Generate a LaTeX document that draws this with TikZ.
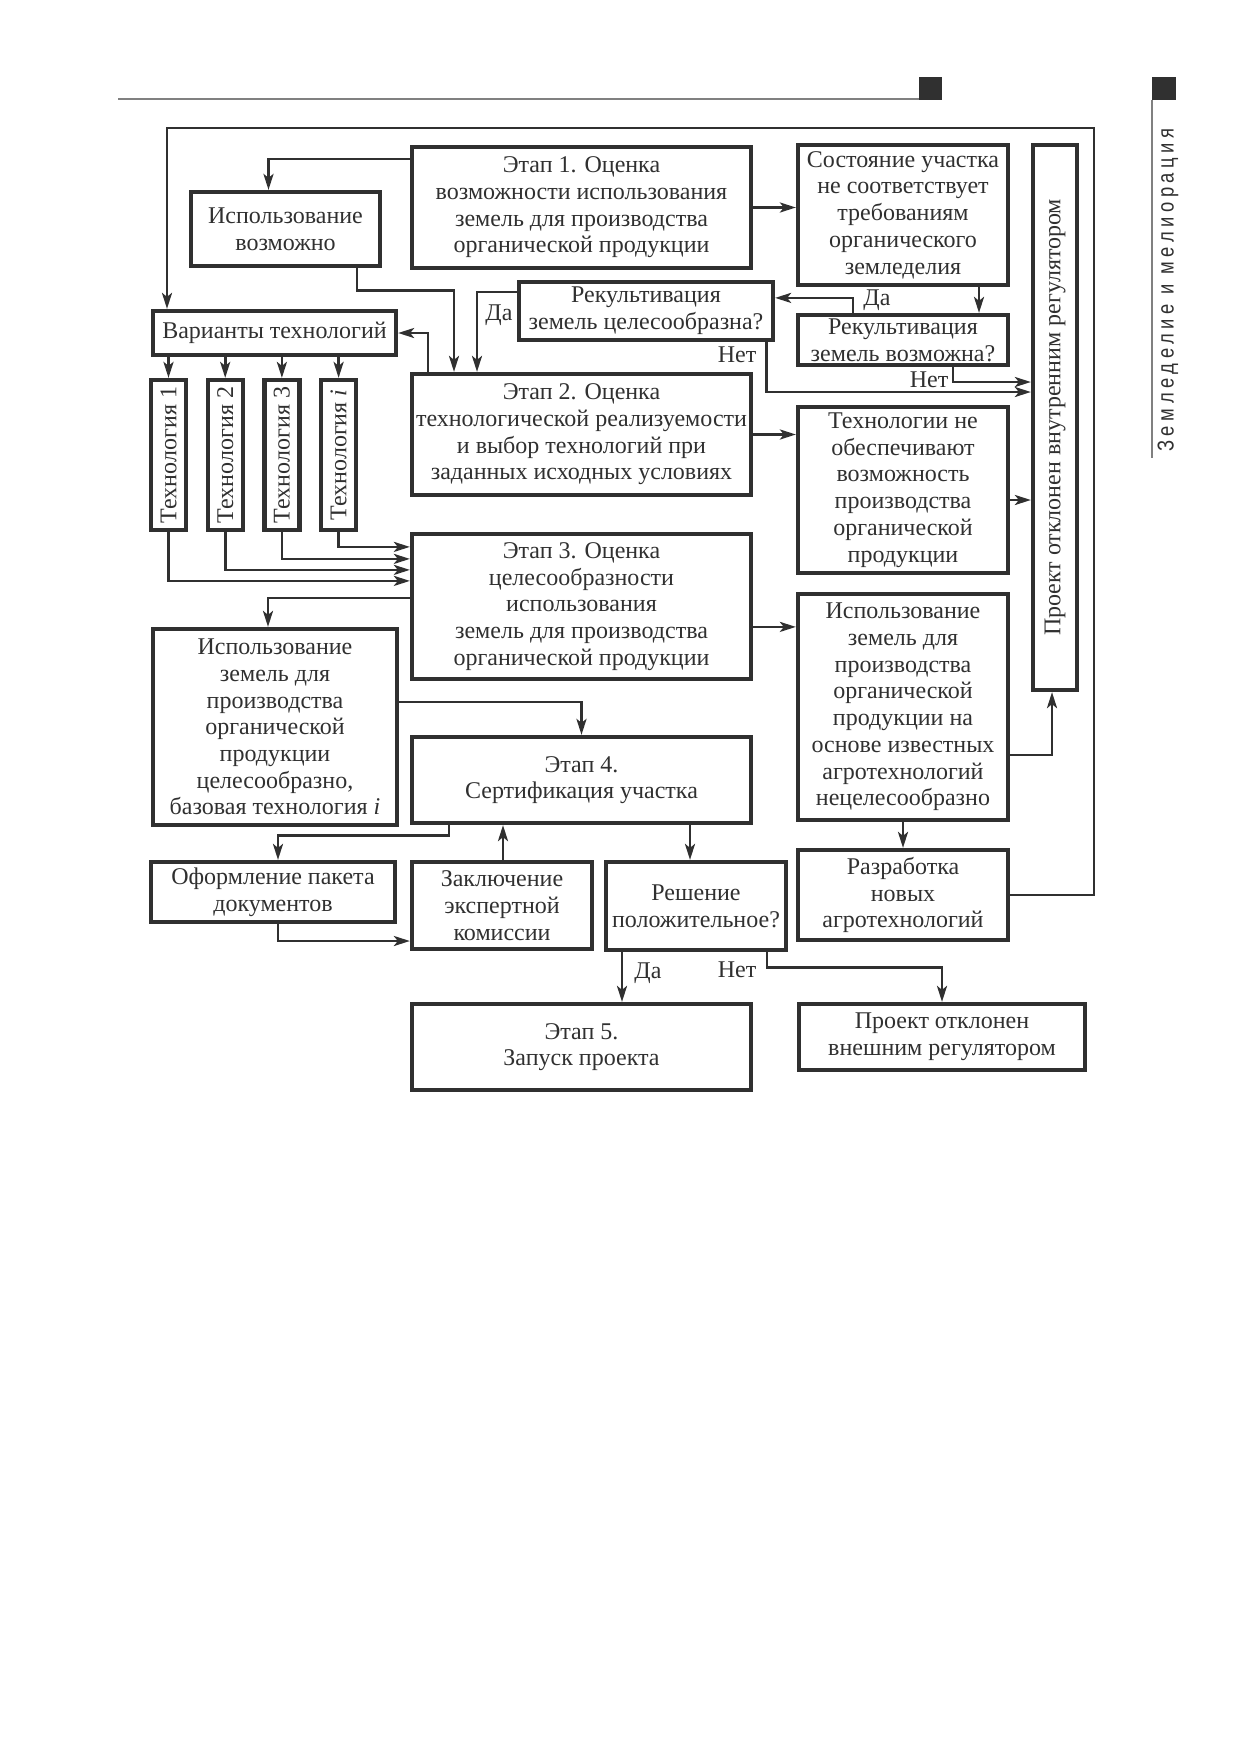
\documentclass[tikz,border=0pt]{standalone}
\usepackage{graphicx}
\usepackage{fontspec}
\setmainfont{Liberation Serif}
\newfontfamily\sidefont[FakeStretch=0.8,LetterSpace=20]{Liberation Sans}
\usetikzlibrary{arrows.meta}
\definecolor{ink}{HTML}{303030}
\tikzset{every picture/.style={line width=0.75pt}}
\tikzset{
  blk/.style={draw=ink, line width=4.2pt, text=ink, align=center, inner sep=1pt,
    font=\fontsize{24}{26.7}\selectfont},
  arr/.style={draw=ink, line width=2.8pt, -{Stealth[length=16pt,width=10pt,inset=4pt]}},
  lbl/.style={text=ink, inner sep=0pt, font=\fontsize{24}{26.7}\selectfont}
}

\begin{document}
\begin{tikzpicture}[x=1pt,y=1pt,yscale=-1,xscale=1]
		\useasboundingbox (0,0) rectangle (1240,1754);
		
		%Header rule and tabs
		\draw [draw={rgb, 255:red, 128; green, 128; blue, 128 }, line width=1.5pt] (118,99) -- (919,99) ;
		\fill [ink] (919,77) rectangle (942,100) ;
		\fill [ink] (1152,77) rectangle (1176,100) ;
		\draw [draw={rgb, 255:red, 128; green, 128; blue, 128 }, line width=1.5pt] (1152,100) -- (1152,458) ;
		\node [rotate=90, text=ink, inner sep=0pt, font=\fontsize{23}{26}\selectfont] (sideTitle) at (1168,290) {\sidefont Земледелие и мелиорация};
		
		%Shape: Rectangle [stage 1]
		\node [blk, minimum width=339pt, minimum height=121pt] (etapA) at (581.5,207.5) {Этап 1. Оценка\\возможности использования\\земель для производства\\органической продукции};
		\node [blk, minimum width=189pt, minimum height=74pt] (ispVozm) at (285.5,229) {Использование\\возможно};
		\node [blk, minimum width=210pt, minimum height=140pt] (sost) at (903,215) {Состояние участка\\не соответствует\\требованиям\\органического\\земледелия};
		\node [blk, minimum width=44pt, minimum height=545pt] (tallRej) at (1055,417.5) {\rotatebox{90}{Проект отклонен внутренним регулятором}};
		\node [blk, minimum width=254pt, minimum height=58pt] (rekCel) at (646,311) {Рекультивация\\земель целесообразна?};
		\node [blk, minimum width=210pt, minimum height=50pt] (rekVozm) at (903,340) {Рекультивация\\земель возможна?};
		\node [blk, minimum width=243pt, minimum height=44pt] (variants) at (274.5,333) {Варианты технологий};
		\foreach \i/\x/\t in {1/168.5/1, 2/225.2/2, 3/281.9/3, 4/338.6/\textit{i}} {
			\node [blk, minimum width=35pt, minimum height=150pt, inner sep=0pt] (tech\i) at (\x,455) {\rotatebox{90}{Технология \t}};
		}
		%Shape: Rectangle [stage 2]
		\node [blk, minimum width=339pt, minimum height=121pt] (etapB) at (581.5,434.5) {Этап 2. Оценка\\технологической реализуемости\\и выбор технологий при\\заданных исходных условиях};
		\node [blk, minimum width=210pt, minimum height=166pt] (tekhNe) at (903,490) {Технологии не\\обеспечивают\\возможность\\производства\\органической\\продукции};
		%Shape: Rectangle [stage 3]
		\node [blk, minimum width=339pt, minimum height=145pt] (etapC) at (581.5,606.5) {Этап 3. Оценка\\целесообразности\\использования\\земель для производства\\органической продукции};
		\node [blk, minimum width=210pt, minimum height=226pt] (ispNe) at (903,707) {Использование\\земель для\\производства\\органической\\продукции на\\основе известных\\агротехнологий\\нецелесообразно};
		\node [blk, minimum width=244pt, minimum height=196pt] (ispTsel) at (275,727) {Использование\\земель для\\производства\\органической\\продукции\\целесообразно,\\базовая технология \textit{i}};
		%Shape: Rectangle [stage 4]
		\node [blk, minimum width=339pt, minimum height=86pt] (etapD) at (581.5,780) {Этап 4.\\Сертификация участка};
		\node [blk, minimum width=244pt, minimum height=60pt] (oform) at (273,892) {Оформление пакета\\документов};
		\node [blk, minimum width=180pt, minimum height=87pt] (zakl) at (502,905.5) {Заключение\\экспертной\\комиссии};
		\node [blk, minimum width=180pt, minimum height=88pt] (resh) at (696,906) {Решение\\положительное?};
		\node [blk, minimum width=210pt, minimum height=90pt] (razrab) at (903,895) {Разработка\\новых\\агротехнологий};
		%Shape: Rectangle [stage 5]
		\node [blk, minimum width=339pt, minimum height=86pt] (etapE) at (581.5,1047) {Этап 5.\\Запуск проекта};
		\node [blk, minimum width=286pt, minimum height=66pt] (rejExt) at (942,1037) {Проект отклонен\\внешним регулятором};
		\coordinate (loopTop) at (1094,128);
		
		%Connectors
		\draw [arr] ([yshift=14pt]etapA.north west) -| ([xshift=-17pt]ispVozm.north) ;
		\draw [arr] ([xshift=71.5pt]ispVozm.south) -- ++(0,22) -| ([xshift=-127.5pt]etapB.north) ;
		\draw [arr] ([yshift=12pt]rekCel.north west) -| ([xshift=-104.5pt]etapB.north) ;
		\draw [arr] ([xshift=-153.5pt]etapB.north) |- (variants.east) ;
		\foreach \i in {1,...,4} \draw [arr] (variants.south -| tech\i.north) -- (tech\i.north) ;
		\foreach \i/\d in {1/49pt, 2/38pt, 3/27pt, 4/15pt} \draw [arr] (tech\i.south) |- ([yshift=\d]etapC.north west) ;
		\draw [arr] (etapA.east) -- (etapA.east -| sost.west) ;
		\draw [arr] ([xshift=76pt]sost.south) -- ([xshift=76pt]rekVozm.north) ;
		\draw [arr] ([xshift=-50pt]rekVozm.north) |- ([yshift=18pt]rekCel.north east) ;
		\draw [arr] ([xshift=-9pt]rekCel.south east) |- ([yshift=-25.5pt]tallRej.west) ;
		\draw [arr] ([xshift=50pt]rekVozm.south) |- ([yshift=-35.5pt]tallRej.west) ;
		\draw [arr] (etapB.east) -- (etapB.east -| tekhNe.west) ;
		\draw [arr] ([yshift=10pt]tekhNe.east) -- ([yshift=10pt]tekhNe.east -| tallRej.west) ;
		\draw [arr] ([yshift=66pt]etapC.north west) -| ([xshift=-7pt]ispTsel.north) ;
		\draw [arr] ([yshift=95pt]etapC.north east) -- ([yshift=95pt]etapC.north east -| ispNe.west) ;
		\draw [arr] ([yshift=163pt]ispNe.north east) -| ([xshift=-3pt]tallRej.south) ;
		\draw [arr] (ispNe.south) -- (razrab.north) ;
		\draw [arr] (razrab.east) -| (loopTop) -| ([xshift=-107.5pt]variants.north) ;
		\draw [arr] ([yshift=75pt]ispTsel.north east) -| (etapD.north) ;
		\draw [arr] ([xshift=-132.5pt]etapD.south) -- ++(0,10) -| ([xshift=5pt]oform.north) ;
		\draw [arr] ([xshift=5pt]oform.south) |- ([yshift=35.5pt]zakl.west) ;
		\draw [arr] ([xshift=1pt]zakl.north) -- ([xshift=1pt]zakl.north |- etapD.south) ;
		\draw [arr] ([xshift=108.5pt]etapD.south) -- ([xshift=-6pt]resh.north) ;
		\draw [arr] ([xshift=-74pt]resh.south) -- ([xshift=40.5pt]etapE.north) ;
		\draw [arr] ([xshift=71pt]resh.south) -- ++(0,15) -| (rejExt.north) ;
		
		\node [lbl] (yesA) at (499,315) {Да};
		\node [lbl] (yesB) at (877,300) {Да};
		\node [lbl] (noA) at (737,355) {Нет};
		\node [lbl] (noB) at (929,380) {Нет};
		\node [lbl] (yesC) at (648,973) {Да};
		\node [lbl] (noC) at (737,970) {Нет};
		
	\end{tikzpicture}
\end{document}
